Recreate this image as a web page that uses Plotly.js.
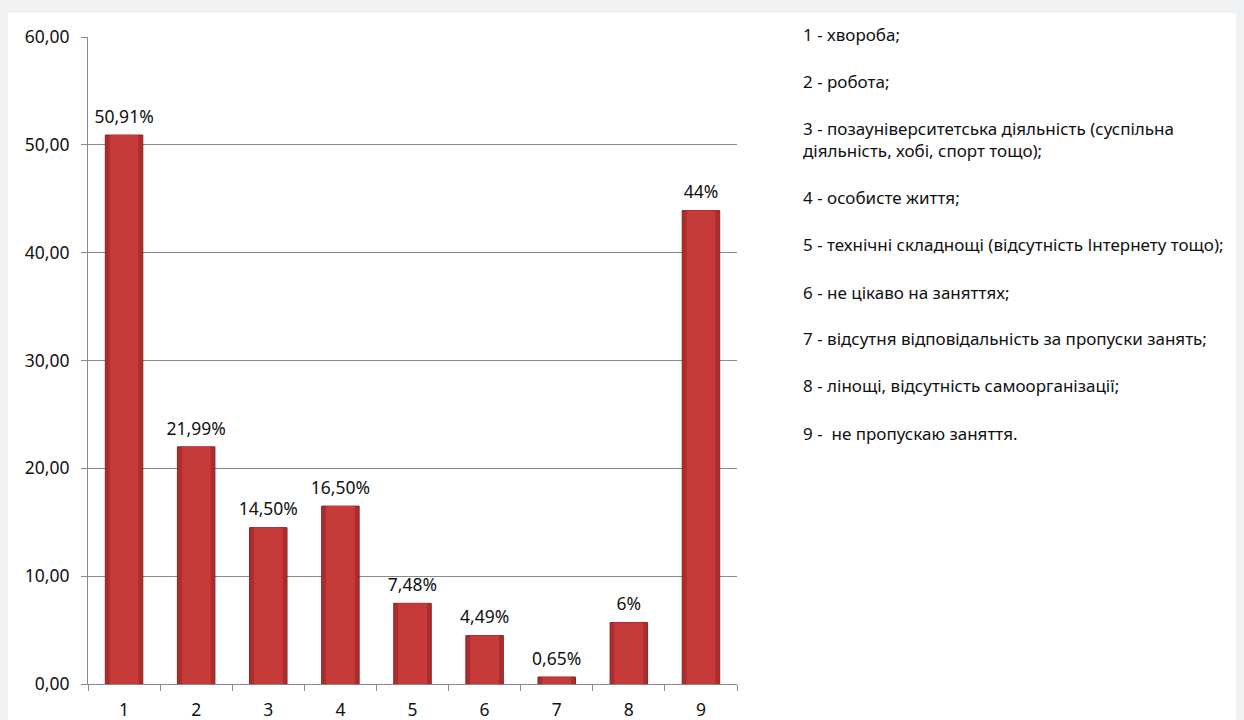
<!DOCTYPE html>
<html>
<head>
<meta charset="utf-8">
<script src="https://cdn.plot.ly/plotly-3.0.1.min.js"></script>
<style>
html,body{margin:0;padding:0;background:#f0f1f2;}
#chart{width:1244px;height:720px;}
</style>
</head>
<body>
<div id="chart"></div>
<script>
// ---- data ----
const categories = ["1","2","3","4","5","6","7","8","9"];
const values = [50.91, 21.99, 14.50, 16.50, 7.48, 4.49, 0.65, 5.7, 43.9];
const valueLabels = ["50,91%","21,99%","14,50%","16,50%","7,48%","4,49%","0,65%","6%","44%"];
const legendLines = [
  "1 - хвороба;",
  "2 - робота;",
  "3 - позауніверситетська діяльність (суспільна<br>діяльність, хобі, спорт тощо);",
  "4 - особисте життя;",
  "5 - технічні складнощі (відсутність Інтернету тощо);",
  "6 - не цікаво на заняттях;",
  "7 - відсутня відповідальність за пропуски занять;",
  "8 - лінощі, відсутність самоорганізації;",
  "9 -  не пропускаю заняття."
];
const yTicks = [0, 10, 20, 30, 40, 50, 60];

// ---- layout helpers (pixel -> paper) ----
const L = 88, R = 737, T = 37, B = 684, W = 1244, H = 720;
const pw = R - L, ph = B - T;
const px = x => (x - L) / pw;
const py = y => (B - y) / ph;

const FONT = "Noto Sans, Open Sans, sans-serif";
const TXT = "#111111";

const barsOuter = {
  type: "bar",
  x: categories,
  y: values,
  width: 0.52,
  marker: {
    color: "#ad2c2c",
    line: {color: "#8a2424", width: 1}
  },
  hoverinfo: "x+y",
  showlegend: false
};
const barsInner = {
  type: "bar",
  x: categories,
  y: values,
  width: 0.40,
  marker: {
    color: "#c73a3a",
    line: {width: 0}
  },
  hoverinfo: "skip",
  showlegend: false
};
const labels = {
  type: "scatter",
  mode: "text+markers",
  x: categories,
  y: values,
  text: valueLabels,
  textposition: "top center",
  textfont: {family: FONT, size: 17.5, color: TXT},
  marker: {size: 11, opacity: 0},
  hoverinfo: "skip",
  showlegend: false,
  cliponaxis: false
};

// legend annotation positions (top of each item, pixels)
const legendTops = [21, 68, 115, 184, 231, 279, 325, 372, 420];
const annotations = legendLines.map((t, i) => ({
  xref: "paper", yref: "paper",
  x: px(801), y: py(legendTops[i]),
  xanchor: "left", yanchor: "top",
  align: "left",
  text: t,
  showarrow: false,
  font: {family: FONT, size: 17, color: TXT}
}));

const layout = {
  width: W, height: H,
  margin: {l: L, r: W - R, t: T, b: H - B, pad: 0},
  paper_bgcolor: "#f0f1f2",
  plot_bgcolor: "rgba(0,0,0,0)",
  separators: ", ",
  barmode: "overlay",
  font: {family: FONT, size: 17.5, color: TXT},
  xaxis: {
    type: "category",
    range: [-0.5, categories.length - 0.5],
    tickson: "boundaries",
    ticks: "outside",
    ticklen: 6,
    tickcolor: "#8a8a8a",
    showline: true,
    linecolor: "#8a8a8a",
    linewidth: 1,
    showgrid: false,
    zeroline: false,
    ticklabelstandoff: 10,
    tickfont: {family: FONT, size: 17.5, color: TXT},
    fixedrange: true
  },
  yaxis: {
    range: [0, 60],
    tickvals: yTicks,
    tickformat: ".2f",
    ticks: "outside",
    ticklen: 6,
    tickcolor: "#8a8a8a",
    showline: true,
    linecolor: "#8a8a8a",
    showgrid: true,
    gridcolor: "#8a8a8a",
    gridwidth: 1,
    zeroline: false,
    ticklabelstandoff: 8,
    tickfont: {family: FONT, size: 17.5, color: TXT},
    fixedrange: true
  },
  shapes: [{
    type: "rect", xref: "paper", yref: "paper", layer: "below",
    x0: px(8), x1: px(1236), y0: py(730), y1: py(13),
    fillcolor: "#ffffff", line: {width: 0}
  }],
  annotations: annotations
};

Plotly.newPlot("chart", [barsOuter, barsInner, labels], layout, {displayModeBar: false, staticPlot: true});
</script>
</body>
</html>
